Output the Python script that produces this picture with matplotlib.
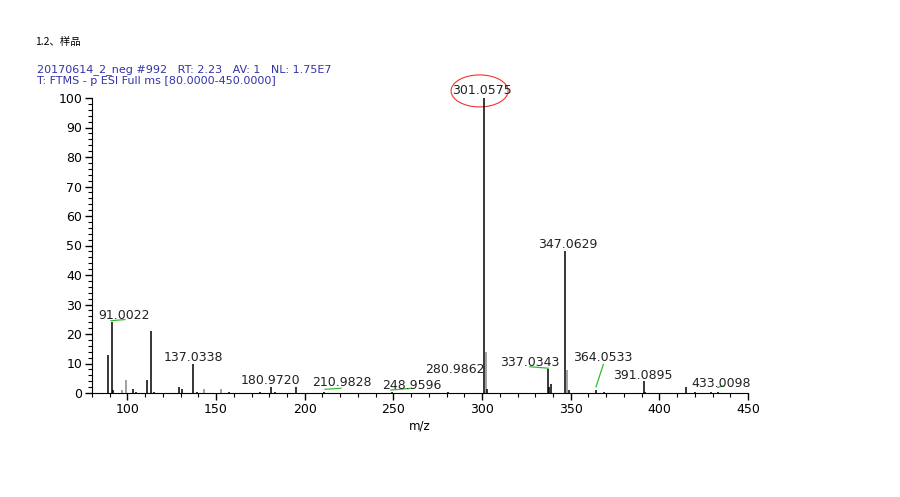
import matplotlib.pyplot as plt
import numpy as np
from matplotlib.patches import Ellipse
from matplotlib.ticker import MultipleLocator

plt.rcParams['font.family'] = ['DejaVu Sans', 'Noto Sans CJK SC']

# Пики спектра (m/z, относительная интенсивность)
mz = [89, 91.0022, 92, 97, 99, 103, 105, 111, 113, 115, 129, 131, 137.0338, 139,
      143, 153, 157, 175, 180.9720, 183, 195, 210.9828, 248.9596, 280.9862,
      301.0575, 302, 303, 337.0343, 338, 339, 347.0629, 348, 349, 364.0533,
      369, 391.0895, 392, 415, 420, 429, 433.0098]
inten = [13, 24, 1, 1, 4.5, 1.5, 0.5, 4.5, 21, 0.5, 2, 1.5, 10, 0.5,
         1.5, 1.2, 0.5, 0.5, 2, 0.5, 2, 0.3, 0.3, 0.3,
         100, 14, 1.5, 8, 2, 3, 48, 7.8, 1, 1,
         0.5, 4, 0.5, 1.9, 0.3, 0.5, 0.3]
gray_peaks = [97, 99, 143, 153, 302, 348]

# Подписи пиков: текст, позиция (m/z, y)
labels = ['91.0022', '137.0338', '180.9720', '210.9828', '248.9596', '280.9862',
          '301.0575', '337.0343', '347.0629', '364.0533', '391.0895', '433.0098']
label_x = [98.0, 137.0, 180.4, 221.0, 260.5, 284.7, 300.0, 327.0, 348.5, 368.2, 390.8, 434.8]
label_y = [26.4, 12.2, 4.4, 3.4, 2.7, 7.8, 102.4, 10.5, 50.5, 11.9, 6.1, 3.1]

# Зелёные выноски
leaders = [((90.7, 24.5), (98.6, 24.9)),
           ((211.4, 1.25), (220.4, 1.6)),
           ((248.5, 1.0), (260.3, 1.6)),
           ((327.0, 8.9), (337.4, 8.4)),
           ((368.4, 9.7), (364.3, 2.1)),
           ((433.0, 1.9), (436.0, 2.4))]

fig = plt.figure(figsize=(9, 4.97), dpi=100)
ax = fig.add_axes([92 / 900, 1 - 393 / 497, (748 - 92) / 900, (393 - 98) / 497])

colors = ['#888888' if m in gray_peaks else 'black' for m in mz]
ax.vlines(mz, 0, inten, colors=colors, linewidth=1.1)

for t, x, y in zip(labels, label_x, label_y):
    ax.text(x, y, t, ha='center', va='center', fontsize=9, color='#222222', clip_on=False)

for (p0, p1) in leaders:
    ax.plot([p0[0], p1[0]], [p0[1], p1[1]], color='#33bb33', linewidth=0.9, clip_on=False)

# Красный овал вокруг главного пика
ell = Ellipse((298.6, 102.4), width=57 / 1.773, height=32 / 2.95, fill=False,
              edgecolor='#ee3333', linewidth=0.8, clip_on=False)
ax.add_patch(ell)

ax.set_xlim(80, 450)
ax.set_ylim(0, 100)
ax.xaxis.set_major_locator(MultipleLocator(50))
ax.xaxis.set_minor_locator(MultipleLocator(10))
ax.yaxis.set_major_locator(MultipleLocator(10))
ax.yaxis.set_minor_locator(MultipleLocator(2))
ax.tick_params(axis='both', which='major', length=5, width=1, labelsize=9, pad=2)
ax.tick_params(axis='both', which='minor', length=3, width=0.8)
ax.spines['top'].set_visible(False)
ax.spines['right'].set_visible(False)
ax.set_xlabel('m/z', fontsize=8.5, labelpad=3)

fig.text(35 / 900, 1 - 42 / 497, '1.2、样品', fontsize=7.5, va='center', color='black',
         family=['Noto Sans CJK SC', 'DejaVu Sans'])
fig.text(37 / 900, 1 - 72 / 497, '20170614_2_neg #992   RT: 2.23   AV: 1   NL: 1.75E7',
         fontsize=8, va='baseline', color='#3333aa')
fig.text(37 / 900, 1 - 84 / 497, 'T: FTMS - p ESI Full ms [80.0000-450.0000]',
         fontsize=8, va='baseline', color='#3333aa')

fig.savefig('out.png', dpi=100)
